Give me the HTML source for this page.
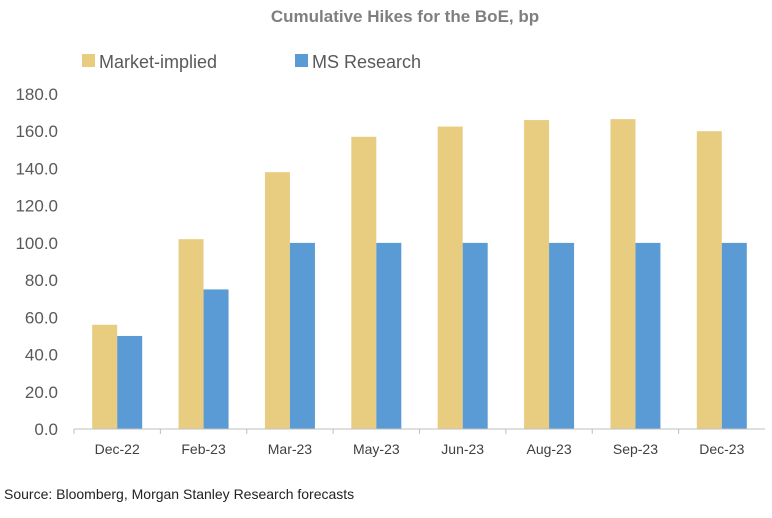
<!DOCTYPE html>
<html><head><meta charset="utf-8"><style>
body{margin:0;background:#fff;width:772px;height:513px;overflow:hidden;font-family:"Liberation Sans",sans-serif}
</style></head><body>
<svg id="chart" width="772" height="513" xmlns="http://www.w3.org/2000/svg">
<text x="405" y="22" text-anchor="middle" font-size="17" font-weight="bold" fill="#7f7f7f">Cumulative Hikes for the BoE, bp</text>
<g>
<rect x="82" y="54" width="13" height="13" fill="#E8CD80"/>
<text x="99" y="68" font-size="18" fill="#595959">Market-implied</text>
<rect x="295" y="54" width="13" height="13" fill="#5B9BD5"/>
<text x="312" y="68" font-size="18" fill="#595959">MS Research</text>
</g>
<g id="plot"></g>
<text x="4" y="499" font-size="14" fill="#222">Source: Bloomberg, Morgan Stanley Research forecasts</text>
</svg>
<script>
const categories=["Dec-22","Feb-23","Mar-23","May-23","Jun-23","Aug-23","Sep-23","Dec-23"];
const marketImplied=[56,102,138,157,162.5,166,166.5,160];
const msResearch=[50,75,100,100,100,100,100,100];
const yTicks=[0,20,40,60,80,100,120,140,160,180];
const NS="http://www.w3.org/2000/svg";
const g=document.getElementById("plot");
const left=74,right=765,y0=429,yTop=94,yMax=180;
const band=(right-left)/categories.length;
const y=v=>y0-(v/yMax)*(y0-yTop);
const xc=i=>left+band*(i+0.5);
function mk(t,a){const e=document.createElementNS(NS,t);for(const k in a)e.setAttribute(k,a[k]);g.appendChild(e);return e;}
yTicks.forEach(t=>{
 const e=mk("text",{x:58,y:y(t)+6,"text-anchor":"end","font-size":"17",fill:"#595959"});
 e.textContent=t.toFixed(1);
 
 
});
const bw=25;
categories.forEach((c,i)=>{
 const b1=mk("rect",{x:xc(i)-bw,y:y(marketImplied[i]),width:bw,height:y0-y(marketImplied[i]),fill:"#E8CD80"});
 
 
 const b2=mk("rect",{x:xc(i),y:y(msResearch[i]),width:bw,height:y0-y(msResearch[i]),fill:"#5B9BD5"});
 
 
 const l=mk("text",{x:xc(i),y:454,"text-anchor":"middle","font-size":"14",fill:"#404040"});
 l.textContent=c;
 
 
 const tk=mk("line",{x1:left+band*i,x2:left+band*i,y1:y0,y2:y0+5,stroke:"#bfbfbf"});
 
 
});
const ax=mk("line",{x1:left,x2:right,y1:y0,y2:y0,stroke:"#bfbfbf"});


</script>
</body></html>
